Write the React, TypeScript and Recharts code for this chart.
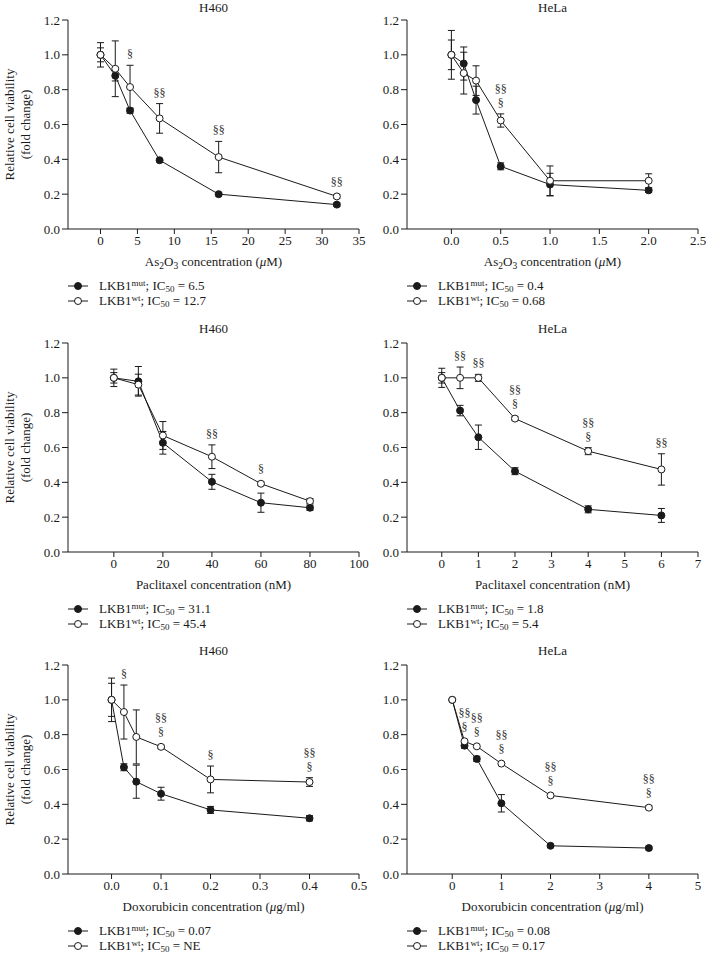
import React from "react";
import {
  ComposedChart,
  Line,
  XAxis,
  YAxis,
  ErrorBar,
  LabelList,
  Legend,
  Label,
  Customized,
} from "recharts";

const FONT = '"Liberation Serif", "DejaVu Serif", serif';
const INK = "#1a1a1a";

// shared y axis
const viabilityTicks = [0, 0.2, 0.4, 0.6, 0.8, 1.0, 1.2];

// As2O3 / H460
const as2o3H460Conc = [0, 2, 4, 8, 16, 32];
const as2o3H460Mut = [1.0, 0.88, 0.68, 0.395, 0.2, 0.14];
const as2o3H460MutErr = [0.04, 0.03, 0.015, 0.01, 0.01, 0.01];
const as2o3H460Wt = [1.0, 0.92, 0.815, 0.635, 0.413, 0.187];
const as2o3H460WtErr = [0.07, 0.16, 0.125, 0.085, 0.09, 0.01];
const as2o3H460Sig = ["", "", "§", "§§", "§§", "§§"];
const as2o3H460Ticks = [0, 5, 10, 15, 20, 25, 30, 35];

// As2O3 / HeLa
const as2o3HelaConc = [0, 0.125, 0.25, 0.5, 1, 2];
const as2o3HelaMut = [1.0, 0.95, 0.74, 0.36, 0.255, 0.222];
const as2o3HelaMutErr = [0.085, 0.095, 0.08, 0.02, 0.065, 0.012];
const as2o3HelaWt = [1.0, 0.895, 0.852, 0.623, 0.277, 0.277];
const as2o3HelaWtErr = [0.14, 0.12, 0.085, 0.038, 0.085, 0.04];
const as2o3HelaSig = ["", "", "", "§§\n§", "", ""];
const as2o3HelaTicks = [0, 0.5, 1.0, 1.5, 2.0, 2.5];

// Paclitaxel / H460
const paclH460Conc = [0, 10, 20, 40, 60, 80];
const paclH460Mut = [1.0, 0.98, 0.627, 0.403, 0.283, 0.254];
const paclH460MutErr = [0.03, 0.085, 0.065, 0.043, 0.055, 0.015];
const paclH460Wt = [1.0, 0.961, 0.669, 0.547, 0.392, 0.292];
const paclH460WtErr = [0.05, 0.06, 0.08, 0.068, 0.01, 0.015];
const paclH460Sig = ["", "", "", "§§", "§", ""];
const paclH460Ticks = [0, 20, 40, 60, 80, 100];

// Paclitaxel / HeLa
const paclHelaConc = [0, 0.5, 1, 2, 4, 6];
const paclHelaMut = [1.0, 0.812, 0.659, 0.464, 0.245, 0.21];
const paclHelaMutErr = [0.03, 0.03, 0.07, 0.02, 0.02, 0.04];
const paclHelaWt = [1.0, 1.0, 1.0, 0.766, 0.579, 0.474];
const paclHelaWtErr = [0.055, 0.062, 0.02, 0.01, 0.02, 0.09];
const paclHelaSig = ["", "§§", "§§", "§§\n§", "§§\n§", "§§"];
const paclHelaTicks = [0, 1, 2, 3, 4, 5, 6, 7];

// Doxorubicin / H460
const doxoH460Conc = [0, 0.025, 0.05, 0.1, 0.2, 0.4];
const doxoH460Mut = [1.0, 0.613, 0.53, 0.461, 0.368, 0.32];
const doxoH460MutErr = [0.095, 0.02, 0.095, 0.037, 0.02, 0.015];
const doxoH460Wt = [1.0, 0.93, 0.787, 0.73, 0.543, 0.528];
const doxoH460WtErr = [0.125, 0.155, 0.155, 0.01, 0.077, 0.025];
const doxoH460Sig = ["", "§", "", "§§\n§", "§", "§§\n§"];
const doxoH460Ticks = [0, 0.1, 0.2, 0.3, 0.4, 0.5];

// Doxorubicin / HeLa
const doxoHelaConc = [0, 0.25, 0.5, 1, 2, 4];
const doxoHelaMut = [1.0, 0.737, 0.661, 0.406, 0.162, 0.149];
const doxoHelaMutErr = [0, 0.015, 0.015, 0.05, 0.01, 0.01];
const doxoHelaWt = [1.0, 0.762, 0.733, 0.634, 0.451, 0.381];
const doxoHelaWtErr = [0, 0, 0, 0, 0.01, 0.01];
const doxoHelaSig = ["", "§§\n§", "§§\n§", "§§\n§", "§§\n§", "§§\n§"];
const doxoHelaTicks = [0, 1, 2, 3, 4, 5];

const CHART_H = 318;
const PLOT_TOP = 28;
const PLOT_H = 209;
const XAXIS_H = 40;
const PLOT_W = 291;
const MARK = 0.02; // marker radius in y units, keeps § clear of the dot

const as2o3Title = (
  <>
    <tspan>As</tspan>
    <tspan fontSize={9.5} dy={3}>2</tspan>
    <tspan dy={-3}>O</tspan>
    <tspan fontSize={9.5} dy={3}>3</tspan>
    <tspan dy={-3}>{" concentration ("}</tspan>
    <tspan fontStyle="italic">μ</tspan>
    <tspan>M)</tspan>
  </>
);
const paclTitle = <tspan>Paclitaxel concentration (nM)</tspan>;
const doxoTitle = (
  <>
    <tspan>{"Doxorubicin concentration ("}</tspan>
    <tspan fontStyle="italic">μ</tspan>
    <tspan>g/ml)</tspan>
  </>
);

function SigLabel(props: any) {
  const { x, y, value } = props;
  if (!value) return null;
  const lines = String(value).split("\n").reverse();
  return (
    <g>
      {lines.map((s, i) => (
        <text
          key={i}
          x={x}
          y={y - 7 - i * 14}
          textAnchor="middle"
          fontFamily={FONT}
          fontSize={12}
          fill="#333"
          style={{ fill: "#333" }}
        >
          {s}
        </text>
      ))}
    </g>
  );
}

function LegendRows({ ic50 }: { ic50: [string, string] }) {
  const rows = [
    { tag: "mut", fill: INK, ic: ic50[0] },
    { tag: "wt", fill: "#fff", ic: ic50[1] },
  ];
  return (
    <div style={{ fontFamily: FONT, fontSize: 13, color: INK }}>
      {rows.map((r) => (
        <div
          key={r.tag}
          style={{ display: "flex", alignItems: "center", height: 15.5, whiteSpace: "nowrap" }}
        >
          <svg width={31} height={10} style={{ flex: "none" }}>
            <line x1={0} x2={20} y1={5} y2={5} stroke={INK} strokeWidth={1} />
            <circle cx={10} cy={5} r={3.5} fill={r.fill} stroke={INK} strokeWidth={1} />
          </svg>
          <span>
            LKB1
            <span style={{ fontSize: 9, position: "relative", top: -4 }}>{r.tag}</span>; IC
            <span style={{ fontSize: 9, position: "relative", top: 2 }}>50</span> = {r.ic}
          </span>
        </div>
      ))}
    </div>
  );
}

type PanelProps = {
  title: string;
  conc: number[];
  mut: number[];
  mutErr: number[];
  wt: number[];
  wtErr: number[];
  sig: string[];
  xDomain: [number, number];
  xTicks: number[];
  xDigits: number;
  xTitle: React.ReactNode;
  ic50: [string, string];
  col: 0 | 1;
  top: number;
};

function Panel(p: PanelProps) {
  const left = p.col === 0 ? 0 : 366;
  const yw = p.col === 0 ? 68 : 41;
  const right = p.col === 0 ? 14 : 8;
  const width = yw + PLOT_W + right;
  const bottom = CHART_H - PLOT_TOP - PLOT_H - XAXIS_H;
  const cx = yw + PLOT_W / 2;
  // first row sits at the page edge, nudge its title down so it is not clipped
  const titleY = PLOT_TOP - 10 + (p.top < 0 ? 2 : 0);

  const data = p.conc.map((c, i) => ({
    conc: c,
    mut: p.mut[i],
    mutErr: p.mutErr[i],
    wt: p.wt[i],
    wtErr: p.wtErr[i],
    sigAt: Math.max(p.wt[i] + p.wtErr[i], p.mut[i] + p.mutErr[i], p.wt[i] + MARK, p.mut[i] + MARK),
    sig: p.sig[i],
  }));

  return (
    <div style={{ position: "absolute", left, top: p.top, width, height: CHART_H }}>
      <ComposedChart
        width={width}
        height={CHART_H}
        data={data}
        margin={{ top: PLOT_TOP, right, left: 0, bottom }}
      >
        <XAxis
          type="number"
          dataKey="conc"
          domain={p.xDomain}
          ticks={p.xTicks}
          interval={0}
          allowDataOverflow
          height={XAXIS_H}
          tickSize={5}
          tickFormatter={(v: number) => v.toFixed(p.xDigits)}
          tick={{ fontSize: 13, fill: INK, fontFamily: FONT }}
          axisLine={{ stroke: INK }}
          tickLine={{ stroke: INK }}
        >
          <Label
            content={() => (
              <text
                x={cx}
                y={PLOT_TOP + PLOT_H + 37}
                textAnchor="middle"
                fontFamily={FONT}
                fontSize={13}
                fill={INK}
              >
                {p.xTitle}
              </text>
            )}
          />
        </XAxis>
        <YAxis
          type="number"
          domain={[0, 1.2]}
          ticks={viabilityTicks}
          interval={0}
          width={yw}
          tickSize={6}
          tickFormatter={(v: number) => v.toFixed(1)}
          tick={{ fontSize: 13, fill: INK, fontFamily: FONT }}
          axisLine={{ stroke: INK }}
          tickLine={{ stroke: INK }}
        >
          {p.col === 0 && (
            <Label
              content={() => {
                const cy = PLOT_TOP + PLOT_H / 2;
                return (
                  <g fontFamily={FONT} fontSize={13} fill={INK}>
                    <text x={9} y={cy} textAnchor="middle" dominantBaseline="central" transform={`rotate(-90 9 ${cy})`}>
                      Relative cell viability
                    </text>
                    <text x={25} y={cy} textAnchor="middle" dominantBaseline="central" transform={`rotate(-90 25 ${cy})`}>
                      (fold change)
                    </text>
                  </g>
                );
              }}
            />
          )}
        </YAxis>
        <Legend
          layout="vertical"
          verticalAlign="middle"
          align="center"
          wrapperStyle={{ left: yw, top: PLOT_TOP + PLOT_H + 49, width: 260, height: 31 }}
          content={() => <LegendRows ic50={p.ic50} />}
        />
        <Customized
          component={
            <text x={cx} y={titleY} textAnchor="middle" fontFamily={FONT} fontSize={13} fill={INK}>
              {p.title}
            </text>
          }
        />
        <Line
          dataKey="mut"
          stroke={INK}
          strokeWidth={1}
          dot={{ r: 3.5, fill: INK, stroke: INK, strokeWidth: 1 }}
          activeDot={false}
          isAnimationActive={false}
        >
          <ErrorBar dataKey="mutErr" width={3.5} stroke={INK} strokeWidth={1} direction="y" />
        </Line>
        <Line
          dataKey="wt"
          stroke={INK}
          strokeWidth={1}
          dot={{ r: 3.5, fill: "#fff", stroke: INK, strokeWidth: 1 }}
          activeDot={false}
          isAnimationActive={false}
        >
          <ErrorBar dataKey="wtErr" width={3.5} stroke={INK} strokeWidth={1} direction="y" />
        </Line>
        <Line
          dataKey="sigAt"
          stroke="none"
          dot={false}
          activeDot={false}
          legendType="none"
          isAnimationActive={false}
        >
          <LabelList dataKey="sig" content={SigLabel} />
        </Line>
      </ComposedChart>
    </div>
  );
}

export default function App() {
  return (
    <div
      style={{
        position: "absolute",
        left: 0,
        top: 0,
        width: 706,
        height: 957,
        background: "#fff",
        fontFamily: FONT,
      }}
    >
      <Panel
        title="H460"
        conc={as2o3H460Conc}
        mut={as2o3H460Mut}
        mutErr={as2o3H460MutErr}
        wt={as2o3H460Wt}
        wtErr={as2o3H460WtErr}
        sig={as2o3H460Sig}
        xDomain={[-4.4, 35]}
        xTicks={as2o3H460Ticks}
        xDigits={0}
        xTitle={as2o3Title}
        ic50={["6.5", "12.7"]}
        col={0}
        top={-8}
      />
      <Panel
        title="HeLa"
        conc={as2o3HelaConc}
        mut={as2o3HelaMut}
        mutErr={as2o3HelaMutErr}
        wt={as2o3HelaWt}
        wtErr={as2o3HelaWtErr}
        sig={as2o3HelaSig}
        xDomain={[-0.45, 2.5]}
        xTicks={as2o3HelaTicks}
        xDigits={1}
        xTitle={as2o3Title}
        ic50={["0.4", "0.68"]}
        col={1}
        top={-8}
      />
      <Panel
        title="H460"
        conc={paclH460Conc}
        mut={paclH460Mut}
        mutErr={paclH460MutErr}
        wt={paclH460Wt}
        wtErr={paclH460WtErr}
        sig={paclH460Sig}
        xDomain={[-18.7, 100]}
        xTicks={paclH460Ticks}
        xDigits={0}
        xTitle={paclTitle}
        ic50={["31.1", "45.4"]}
        col={0}
        top={315}
      />
      <Panel
        title="HeLa"
        conc={paclHelaConc}
        mut={paclHelaMut}
        mutErr={paclHelaMutErr}
        wt={paclHelaWt}
        wtErr={paclHelaWtErr}
        sig={paclHelaSig}
        xDomain={[-0.95, 7]}
        xTicks={paclHelaTicks}
        xDigits={0}
        xTitle={paclTitle}
        ic50={["1.8", "5.4"]}
        col={1}
        top={315}
      />
      <Panel
        title="H460"
        conc={doxoH460Conc}
        mut={doxoH460Mut}
        mutErr={doxoH460MutErr}
        wt={doxoH460Wt}
        wtErr={doxoH460WtErr}
        sig={doxoH460Sig}
        xDomain={[-0.088, 0.5]}
        xTicks={doxoH460Ticks}
        xDigits={1}
        xTitle={doxoTitle}
        ic50={["0.07", "NE"]}
        col={0}
        top={637}
      />
      <Panel
        title="HeLa"
        conc={doxoHelaConc}
        mut={doxoHelaMut}
        mutErr={doxoHelaMutErr}
        wt={doxoHelaWt}
        wtErr={doxoHelaWtErr}
        sig={doxoHelaSig}
        xDomain={[-0.92, 5]}
        xTicks={doxoHelaTicks}
        xDigits={0}
        xTitle={doxoTitle}
        ic50={["0.08", "0.17"]}
        col={1}
        top={637}
      />
    </div>
  );
}
